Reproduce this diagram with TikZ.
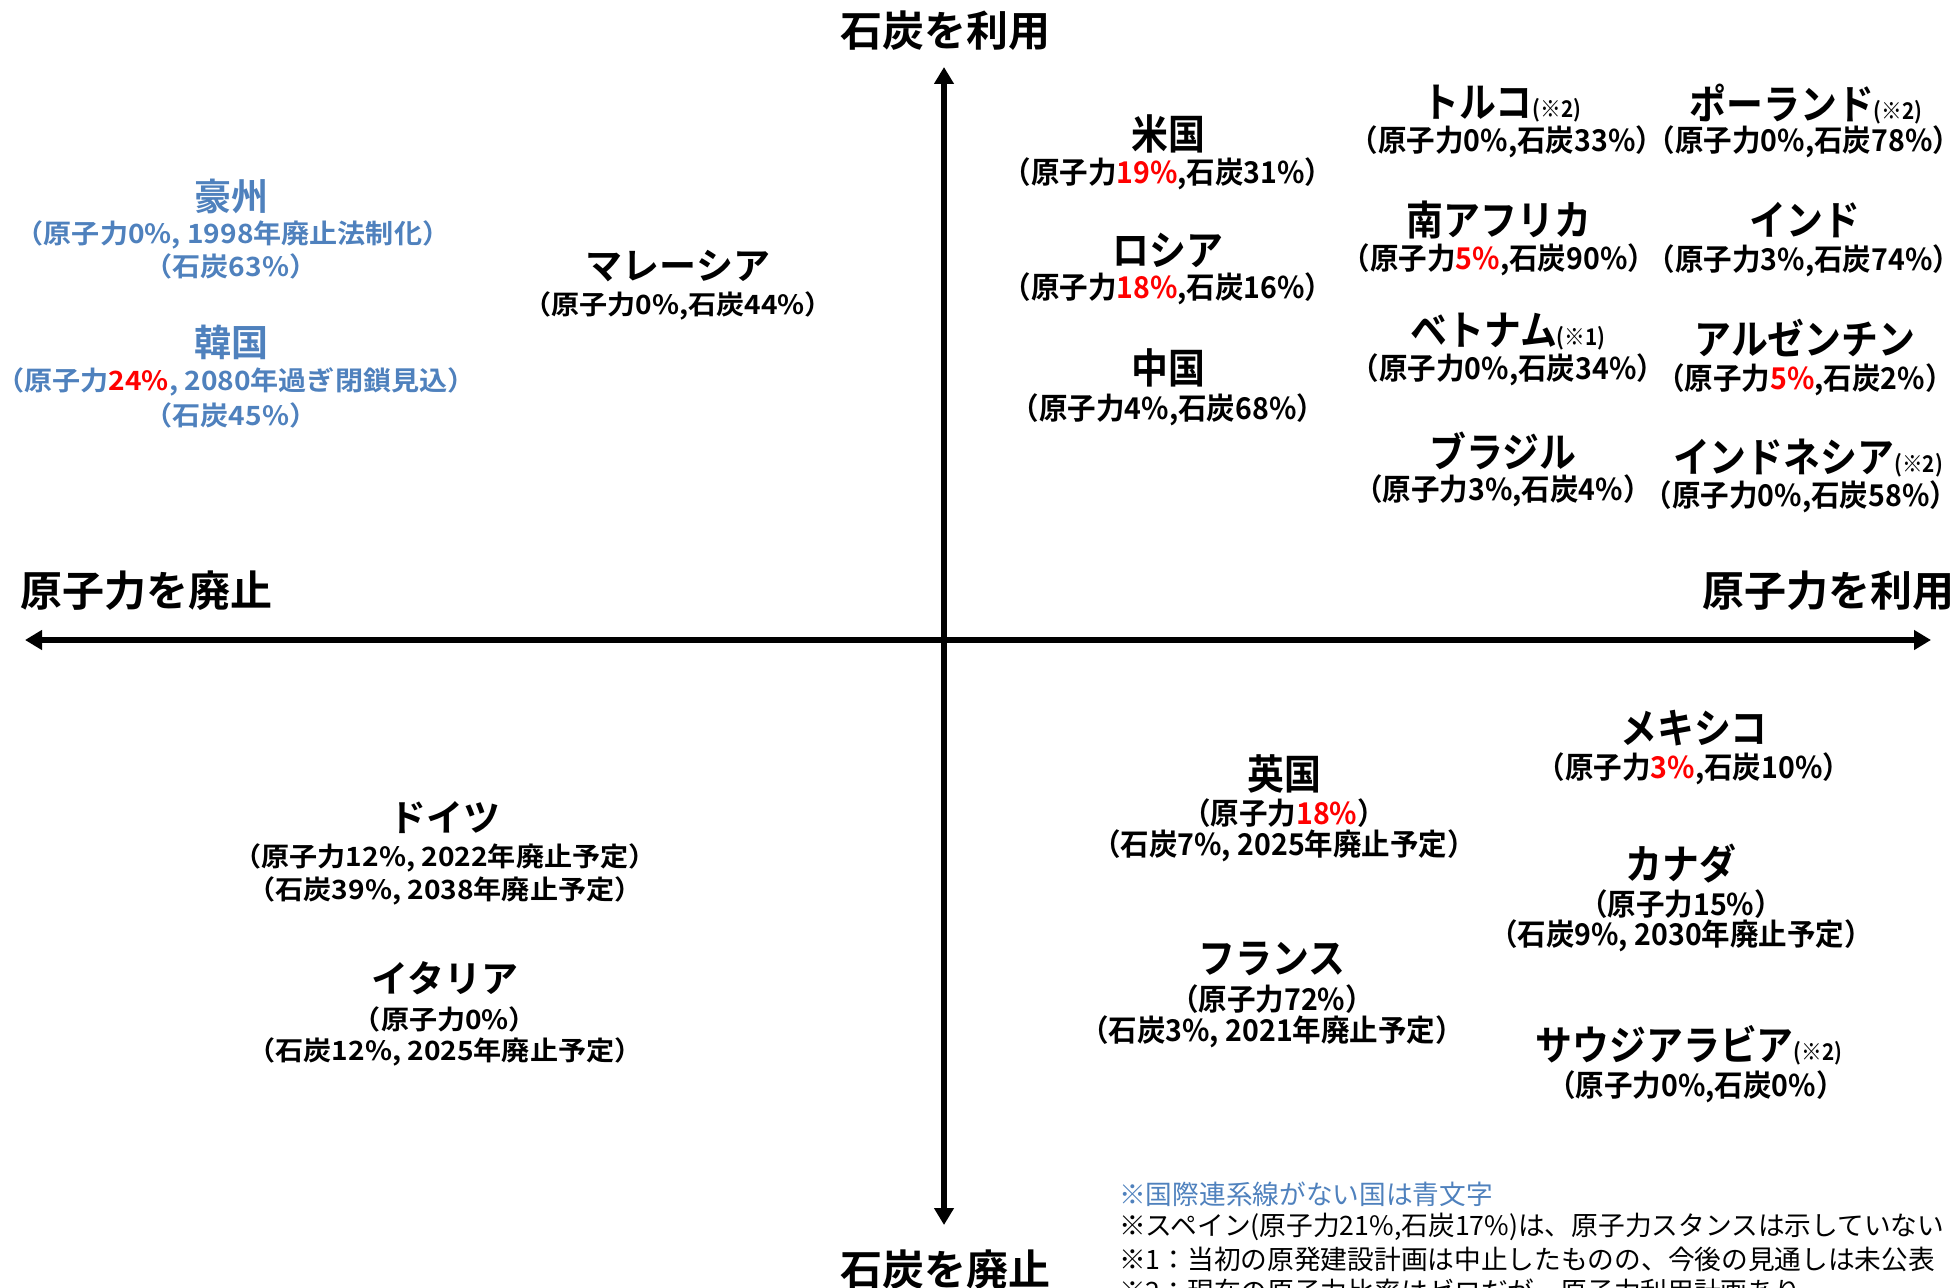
\documentclass[tikz,border=0pt]{standalone}
\usepackage{fontspec}
\usetikzlibrary{arrows.meta}
\setmainfont{Noto Sans CJK JP}[BoldFont={* Bold}]
\newfontfamily\jpc{Noto Sans CJK JP}[FakeStretch=0.9,BoldFont={* Bold}]
\newfontfamily\jpcs{Noto Sans CJK JP}[FakeStretch=0.95,BoldFont={* Bold}]
\newfontfamily\jpw{Noto Sans CJK JP}[FakeStretch=1.06,BoldFont={* Bold}]
\definecolor{ablue}{HTML}{4F81BD}
\definecolor{pred}{HTML}{FF0000}
\newcommand\notemk[1]{{\fontsize{23}{23}\selectfont(※#1)}}
\newcommand\rd[1]{\textcolor{pred}{#1}}
\tikzset{
  lbl/.style={inner sep=0pt, font=\bfseries\fontsize{42}{42}\selectfont},
  wname/.style={inner sep=0pt, font=\bfseries\fontsize{37}{37}\selectfont},
  wsub/.style={inner sep=0pt, font=\jpw\bfseries\fontsize{26.5}{26.5}\selectfont},
  cname/.style={inner sep=0pt, font=\jpc\bfseries\fontsize{41}{41}\selectfont},
  csub/.style={inner sep=0pt, font=\jpcs\bfseries\fontsize{30}{30}\selectfont},
  note/.style={inner sep=0pt, anchor=west, font=\fontsize{26.7}{26.7}\selectfont},
  ax/.style={line width=5.5pt, {Triangle[length=17pt,width=19pt]}-{Triangle[length=17pt,width=19pt]}},
}
\begin{document}
\begin{tikzpicture}[x=1pt,y=-1pt]
\useasboundingbox (0,0) rectangle (1958,1287);
% axes
\coordinate (axL) at (25,640);
\coordinate (axR) at (1931,640);
\coordinate (axT) at (944,67);
\coordinate (axB) at (944,1225);
\draw[ax] (axL) -- (axR);
\draw[ax] (axB) -- (axT);
\node[lbl] (top) at (945,31) {石炭を利用};
\node[lbl] (bot) at (945,1270) {石炭を廃止};
\node[lbl, anchor=west] (left) at (20,591) {原子力を廃止};
\node[lbl, anchor=east] (right) at (1955,591) {原子力を利用};
% upper left (blue)
\node[wname, text=ablue] (au) at (231,196) {豪州};
\node[wsub, text=ablue] (au1) at (233,235) {（原子力0\%, 1998年廃止法制化）};
\node[wsub, text=ablue] (au2) at (231,266) {（石炭63\%）};
\node[wname, text=ablue] (kr) at (231,342) {韓国};
\node[wsub, text=ablue] (kr1) at (236,382) {（原子力\rd{24\%}, 2080年過ぎ閉鎖見込）};
\node[wsub, text=ablue] (kr2) at (231,415) {（石炭45\%）};
\node[wname] (my) at (678,266) {マレーシア};
\node[wsub] (my1) at (678,306) {（原子力0\%,石炭44\%）};
% upper right
\node[cname] (us) at (1168,134) {米国};
\node[csub] (us1) at (1168,174) {（原子力\rd{19\%},石炭31\%）};
\node[cname] (ru) at (1168,250) {ロシア};
\node[csub] (ru1) at (1168,289) {（原子力\rd{18\%},石炭16\%）};
\node[cname] (cn) at (1168,368) {中国};
\node[csub] (cn1) at (1168,410) {（原子力4\%,石炭68\%）};
\node[cname] (tr) at (1502,104) {トルコ\notemk{2}};
\node[csub] (tr1) at (1507,142) {（原子力0\%,石炭33\%）};
\node[cname] (pl) at (1806,104) {ポーランド\notemk{2}};
\node[csub] (pl1) at (1804,142) {（原子力0\%,石炭78\%）};
\node[cname] (za) at (1499,220) {南アフリカ};
\node[csub] (za1) at (1499,260) {（原子力\rd{5\%},石炭90\%）};
\node[cname] (in) at (1805,220) {インド};
\node[csub] (in1) at (1804,261) {（原子力3\%,石炭74\%）};
\node[cname] (vn) at (1508,332) {ベトナム\notemk{1}};
\node[csub] (vn1) at (1508,370) {（原子力0\%,石炭34\%）};
\node[cname] (ar) at (1805,338) {アルゼンチン};
\node[csub] (ar1) at (1805,380) {（原子力\rd{5\%},石炭2\%）};
\node[cname] (br) at (1503,451) {ブラジル};
\node[csub] (br1) at (1503,491) {（原子力3\%,石炭4\%）};
\node[cname] (id) at (1808,458) {インドネシア\notemk{2}};
\node[csub] (id1) at (1801,497) {（原子力0\%,石炭58\%）};
% lower left
\node[wname] (de) at (445,818) {ドイツ};
\node[wsub] (de1) at (445,858) {（原子力12\%, 2022年廃止予定）};
\node[wsub] (de2) at (445,891) {（石炭39\%, 2038年廃止予定）};
\node[wname] (it) at (445,978) {イタリア};
\node[wsub] (it1) at (445,1019) {（原子力0\%）};
\node[wsub] (it2) at (445,1052) {（石炭12\%, 2025年廃止予定）};
% lower right
\node[cname] (uk) at (1284,774) {英国};
\node[csub] (uk1) at (1284,813) {（原子力\rd{18\%}）};
\node[csub] (uk2) at (1284,846) {（石炭7\%, 2025年廃止予定）};
\node[cname] (fr) at (1272,959) {フランス};
\node[csub] (fr1) at (1272,999) {（原子力72\%）};
\node[csub] (fr2) at (1272,1032) {（石炭3\%, 2021年廃止予定）};
\node[cname] (mx) at (1694,728) {メキシコ};
\node[csub] (mx1) at (1694,769) {（原子力\rd{3\%},石炭10\%）};
\node[cname] (ca) at (1681,864) {カナダ};
\node[csub] (ca1) at (1681,904) {（原子力15\%）};
\node[csub] (ca2) at (1681,936) {（石炭9\%, 2030年廃止予定）};
\node[cname] (sa) at (1689,1045) {サウジアラビア\notemk{2}};
\node[csub] (sa1) at (1696,1087) {（原子力0\%,石炭0\%）};
% notes
\node[note, text=ablue] (n1) at (1119,1194) {※国際連系線がない国は青文字};
\node[note] (n2) at (1119,1227) {※スペイン(原子力21\%,石炭17\%)は、原子力スタンスは示していない};
\node[note] (n3) at (1119,1259) {※1：当初の原発建設計画は中止したものの、今後の見通しは未公表};
\node[note] (n4) at (1119,1291) {※2：現在の原子力比率はゼロだが、原子力利用計画あり};
\end{tikzpicture}
\end{document}
